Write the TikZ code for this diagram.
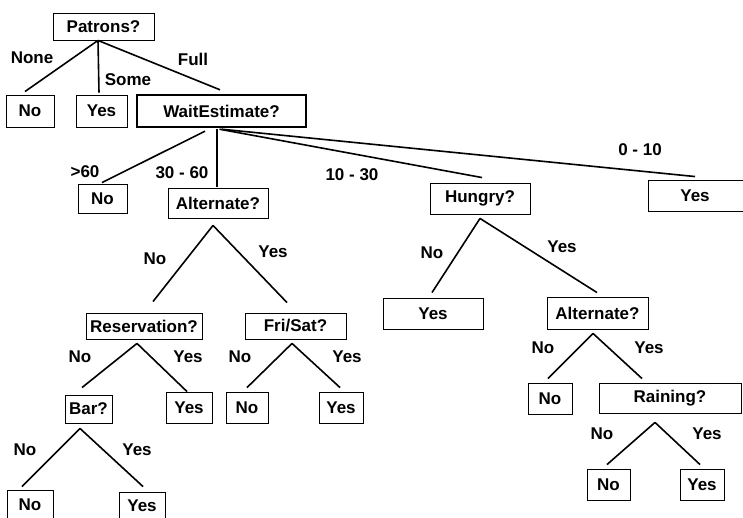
\documentclass[tikz,border=0pt]{standalone}
\usepackage{fontspec}
\setmainfont{Liberation Sans}
\usetikzlibrary{calc}
\begin{document}
\begin{tikzpicture}[x=1pt,y=-1pt,
  box/.style={draw=black,line width=0.9pt,rectangle,inner sep=0pt,font=\fontsize{17}{19}\selectfont\bfseries},
  lbl/.style={inner sep=0pt,font=\fontsize{17}{19}\selectfont\bfseries},
  txt/.style={inner sep=0pt,font=\fontsize{17}{19}\selectfont\bfseries},
  edge/.style={draw=black,line width=1.6pt}]
\useasboundingbox (0,0) rectangle (743,518);
\clip (0,0) rectangle (743,518);
\fill[white] (0,0) rectangle (743,518);
% nodes
\node[box,minimum width=101,minimum height=27] (pat) at (103.5,26.5) {Patrons?};
\node[box,minimum width=48,minimum height=32] (no1) at (30,111) {No};
\node[box,minimum width=51,minimum height=32] (yes1) at (101.5,111) {Yes};
\node[box,line width=2.4pt,minimum width=169,minimum height=32] (we) at (221.5,111) {WaitEstimate?};
\node[box,minimum width=49,minimum height=29] (no2) at (102.5,198.5) {No};
\node[box,minimum width=100,minimum height=30] (alt1) at (218,203) {Alternate?};
\node[box,minimum width=100,minimum height=31] (hun) at (480,198.5) {Hungry?};
\node[box,minimum width=152,minimum height=31] (yes2) at (724,195.5) {};
\node[txt] (yes2t) at (695,196) {Yes};
\node[box,minimum width=100,minimum height=31] (yes3) at (433,313.5) {Yes};
\node[box,minimum width=101,minimum height=32] (alt2) at (597.5,313) {Alternate?};
\node[box,minimum width=44,minimum height=31] (no3) at (550,398.5) {No};
\node[box,minimum width=142,minimum height=30] (rain) at (670,398) {Raining?};
\node[box,minimum width=43,minimum height=31] (no4) at (608.5,484.5) {No};
\node[box,minimum width=44,minimum height=31] (yes4) at (702,484.5) {Yes};
\node[box,minimum width=116,minimum height=26] (res) at (144,326) {Reservation?};
\node[box,minimum width=101,minimum height=26] (fri) at (295.5,326) {Fri/Sat?};
\node[box,minimum width=47,minimum height=28] (bar) at (88.5,409) {Bar?};
\node[box,minimum width=46,minimum height=31] (yes5) at (189,407.5) {Yes};
\node[box,minimum width=42,minimum height=31] (no5) at (247,407.5) {No};
\node[box,minimum width=44,minimum height=31] (yes6) at (341,407.5) {Yes};
\node[box,minimum width=46,minimum height=30] (no6) at (30,505) {No};
\node[box,minimum width=46,minimum height=28] (yes7) at (142,506) {Yes};
% connectors
\draw[edge] ($(pat.south)+(-5.5,0)$) -- ($(no1.north)+(-5,-3)$);
\draw[edge] ($(pat.south)+(-5.5,0)$) -- ($(yes1.north)+(-2.5,-2)$);
\draw[edge] ($(pat.south)+(-5.5,0)$) -- ($(we.north)+(-1.5,-4)$);
\draw[edge] ($(we.south)+(-16.5,3)$) -- ($(no2.north)+(-0.5,-1)$);
\draw[edge] ($(we.south)+(-4.5,1)$) -- ($(alt1.north)+(-1,-1)$);
\draw[edge] ($(we.south)+(-2,1)$) -- ($(hun.north)+(2,-5)$);
\draw[edge] ($(we.south)+(0,1)$) -- ($(yes2.north)+(-29,-3)$);
\draw[edge] ($(hun.south)+(0,4)$) -- ($(yes3.north)+(-1,-5)$);
\draw[edge] ($(hun.south)+(0,4)$) -- ($(alt2.north)+(-0.5,-4)$);
\draw[edge] ($(alt2.south)+(-4.5,4)$) -- ($(no3.north)+(-2,-4)$);
\draw[edge] ($(alt2.south)+(-4.5,4)$) -- ($(rain.north)+(-28,-4)$);
\draw[edge] ($(rain.south)+(-15,9)$) -- ($(no4.north)+(-1.5,-4)$);
\draw[edge] ($(rain.south)+(-15,9)$) -- ($(yes4.north)+(-2,-4)$);
\draw[edge] ($(alt1.south)+(-5,7)$) -- ($(res.north)+(9,-11)$);
\draw[edge] ($(alt1.south)+(-5,7)$) -- ($(fri.north)+(-8.5,-10)$);
\draw[edge] ($(res.south)+(-7,4)$) -- ($(bar.north)+(-6.5,-7)$);
\draw[edge] ($(res.south)+(-7,4)$) -- ($(yes5.north)+(-2,0)$);
\draw[edge] ($(fri.south)+(-3.5,4)$) -- ($(no5.north)+(0,-4)$);
\draw[edge] ($(fri.south)+(-3.5,4)$) -- ($(yes6.north)+(-1,-4)$);
\draw[edge] ($(bar.south)+(-8.5,5)$) -- ($(no6.north)+(-8,-3)$);
\draw[edge] ($(bar.south)+(-8.5,5)$) -- ($(yes7.north)+(1,-5)$);
% labels
\node[lbl] (lNone) at (32,58) {None};
\node[lbl] (lSome) at (128,80) {Some};
\node[lbl] (lFull) at (193,59) {Full};
\node[lbl] (lgt60) at (85,172) {>60};
\node[lbl] (l3060) at (182,173) {30 - 60};
\node[lbl] (l1030) at (352,175) {10 - 30};
\node[lbl] (l010) at (640,150) {0 - 10};
\node[lbl] (lhn) at (432,253) {No};
\node[lbl] (lhy) at (562,247) {Yes};
\node[lbl] (la2n) at (543,348) {No};
\node[lbl] (la2y) at (649,348) {Yes};
\node[lbl] (lrn) at (602,434) {No};
\node[lbl] (lry) at (707,434) {Yes};
\node[lbl] (la1n) at (155,259) {No};
\node[lbl] (la1y) at (273,252) {Yes};
\node[lbl] (lresn) at (80,357) {No};
\node[lbl] (lresy) at (188,357) {Yes};
\node[lbl] (lfn) at (240,357) {No};
\node[lbl] (lfy) at (347,357) {Yes};
\node[lbl] (lbn) at (25,450) {No};
\node[lbl] (lby) at (137,450) {Yes};
\end{tikzpicture}
\end{document}
